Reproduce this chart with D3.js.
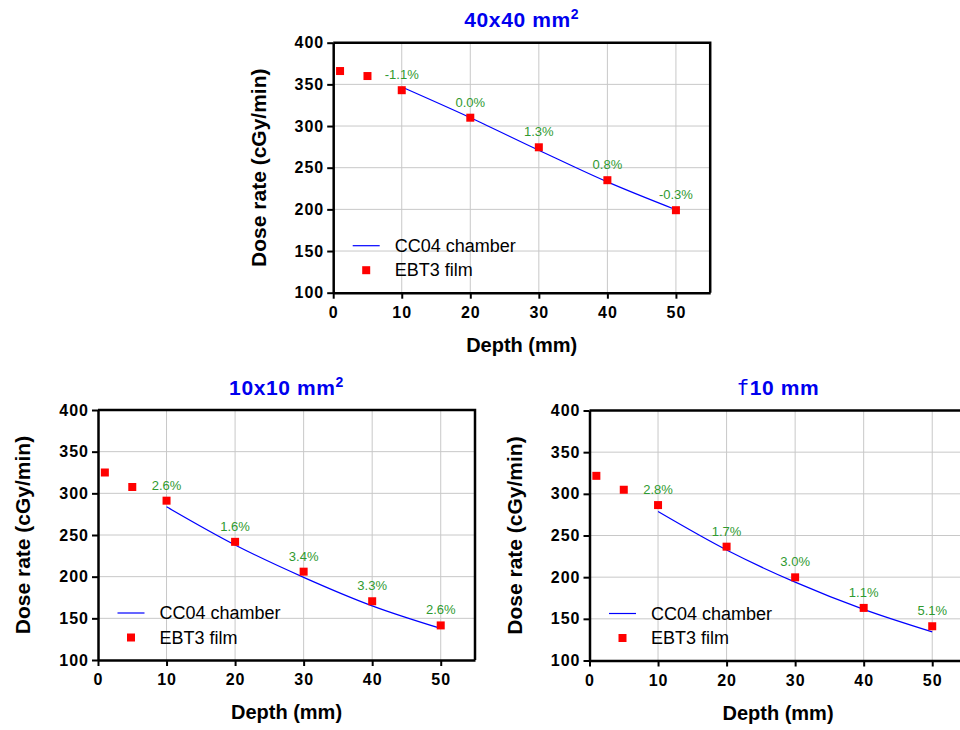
<!DOCTYPE html>
<html>
<head>
<meta charset="utf-8">
<script src="https://cdn.jsdelivr.net/npm/d3@7"></script>
<style>
  html, body { margin: 0; padding: 0; background: #fff; }
  svg { display: block; font-family: "Liberation Sans", Arial, sans-serif; }
</style>
</head>
<body>
<svg id="chart" width="960" height="730"></svg>
<script>
// Depths (mm) of the film and chamber measurements
const depthFilm = [1, 5, 10, 20, 30, 40, 50];
const depthChamber = [10, 20, 30, 40, 50];

// 40x40 mm² field
const film40 = [366, 360, 343, 310, 274.5, 235, 199];
const chamber40 = [346.8, 310, 271, 233, 199.6];
const diff40 = ["-1.1%", "0.0%", "1.3%", "0.8%", "-0.3%"];

// 10x10 mm² field
const film10sq = [325, 307.6, 291.2, 241.8, 206, 170.5, 141.5];
const chamber10sq = [283.8, 238, 199.2, 165, 137.9];
const diff10sq = ["2.6%", "1.6%", "3.4%", "3.3%", "2.6%"];

// 10 mm diameter field
const film10c = [321.6, 304.9, 286.5, 236.6, 199.8, 163.1, 141.1];
const chamber10c = [278.7, 232.6, 194, 161.3, 134.3];
const diff10c = ["2.8%", "1.7%", "3.0%", "1.1%", "5.1%"];

// Axis ticks
const xTicks = [0, 10, 20, 30, 40, 50];
const yTicks = [100, 150, 200, 250, 300, 350, 400];
const xGrid = [10, 20, 30, 40, 50];
const yGrid = [150, 200, 250, 300, 350];

const legendLabels = ["CC04 chamber", "EBT3 film"];
const xTitle = "Depth (mm)";
const yTitle = "Dose rate (cGy/min)";

const panels = [
  { left: 333.2, top: 42.7, title: [{ t: "40x40 mm" }, { t: "2", sup: true }],
    film: film40, chamber: chamber40, diff: diff40 },
  { left: 98, top: 410, title: [{ t: "10x10 mm" }, { t: "2", sup: true }],
    film: film10sq, chamber: chamber10sq, diff: diff10sq },
  { left: 589.5, top: 410.5, title: [{ t: "f", mono: true }, { t: "10 mm" }],
    film: film10c, chamber: chamber10c, diff: diff10c }
];

const W = 377, H = 250;
const svg = d3.select("#chart");

panels.forEach(p => {
  const g = svg.append("g").attr("transform", `translate(${p.left},${p.top})`);
  const x = d3.scaleLinear().domain([0, 55]).range([0, W]);
  const y = d3.scaleLinear().domain([100, 400]).range([H, 0]);

  // grid
  g.append("g").selectAll("line.v").data(xGrid).join("line")
    .attr("x1", d => x(d)).attr("x2", d => x(d)).attr("y1", 0).attr("y2", H)
    .attr("stroke", "#c8c8c8").attr("stroke-width", 1);
  g.append("g").selectAll("line.h").data(yGrid).join("line")
    .attr("x1", 0).attr("x2", W).attr("y1", d => y(d)).attr("y2", d => y(d))
    .attr("stroke", "#c8c8c8").attr("stroke-width", 1);

  // frame top & right
  g.append("path").attr("d", `M0,0H${W}V${H}`)
    .attr("fill", "none").attr("stroke", "#000").attr("stroke-width", 2.5);

  // axes
  const yAx = g.append("g").call(d3.axisLeft(y).tickValues(yTicks).tickSize(6).tickSizeOuter(0).tickPadding(3));
  const xAx = g.append("g").attr("transform", `translate(0,${H})`)
    .call(d3.axisBottom(x).tickValues(xTicks).tickSize(6).tickSizeOuter(0).tickPadding(8));
  [yAx, xAx].forEach(a => {
    a.select(".domain").attr("stroke", "#000").attr("stroke-width", 2.5);
    a.selectAll(".tick line").attr("stroke", "#000").attr("stroke-width", 2);
    a.selectAll(".tick text").attr("fill", "#000").attr("font-size", 16)
      .attr("font-weight", "bold").attr("letter-spacing", "1px")
      .attr("font-family", "'Liberation Sans', Arial, sans-serif");
  });

  // chamber curve
  const line = d3.line().x(d => x(d[0])).y(d => y(d[1])).curve(d3.curveMonotoneX);
  g.append("path").datum(d3.zip(depthChamber, p.chamber)).attr("d", line)
    .attr("fill", "none").attr("stroke", "#0000ff").attr("stroke-width", 1.2);

  // film markers
  const ms = 8;
  g.append("g").selectAll("rect").data(d3.zip(depthFilm, p.film)).join("rect")
    .attr("x", d => x(d[0]) - ms / 2).attr("y", d => y(d[1]) - ms / 2)
    .attr("width", ms).attr("height", ms).attr("fill", "#ff0000");

  // percentage labels above film points at chamber depths
  g.append("g").selectAll("text").data(depthChamber).join("text")
    .attr("x", d => x(d))
    .attr("y", d => y(p.film[depthFilm.indexOf(d)]) - 11)
    .attr("text-anchor", "middle").attr("font-size", 13).attr("fill", "#2f9a2f")
    .text((d, i) => p.diff[i]);

  // legend
  const lx = 19.5, ly = H - 47;
  g.append("line").attr("x1", lx).attr("x2", lx + 27).attr("y1", ly).attr("y2", ly)
    .attr("stroke", "#0000ff").attr("stroke-width", 1.2);
  g.append("rect").attr("x", lx + 13.5 - ms / 2).attr("y", ly + 24.5 - ms / 2)
    .attr("width", ms).attr("height", ms).attr("fill", "#ff0000");
  legendLabels.forEach((t, i) => {
    g.append("text").attr("x", lx + 42).attr("y", ly + i * 24.5).attr("dy", "0.35em")
      .attr("font-size", 18).attr("fill", "#000").text(t);
  });

  // titles
  const tt = g.append("text").attr("x", W / 2).attr("y", -15.5).attr("text-anchor", "middle")
    .attr("font-size", 21).attr("font-weight", "bold").attr("fill", "#0000ee")
    .attr("letter-spacing", "0.6px");
  p.title.forEach(s => {
    const ts = tt.append("tspan").text(s.t);
    if (s.sup) ts.attr("font-size", 14).attr("dy", -8);
    if (s.mono) ts.attr("font-family", "'DejaVu Sans Mono', monospace").attr("font-weight", "normal");
  });

  g.append("text").attr("x", W / 2).attr("y", H + 52).attr("dy", "0.35em")
    .attr("text-anchor", "middle").attr("font-size", 20).attr("font-weight", "bold").text(xTitle);
  g.append("text").attr("transform", `translate(-75,${H / 2}) rotate(-90)`).attr("dy", "0.35em")
    .attr("text-anchor", "middle").attr("font-size", 21).attr("font-weight", "bold").text(yTitle);
});
</script>
</body>
</html>
